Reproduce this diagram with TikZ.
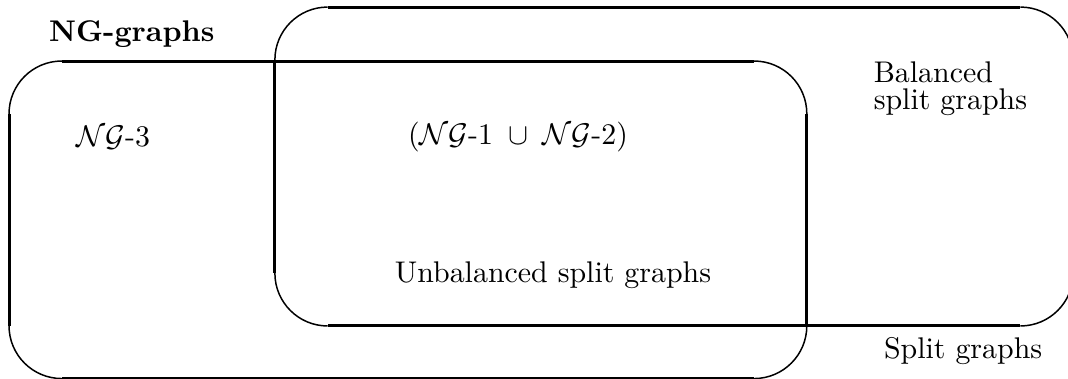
\documentclass[tikz,border=0pt]{standalone}
\usepackage{amsmath}
\usepackage{amssymb}
\usepackage{tikz}
\usetikzlibrary{positioning}
\tikzset{
  edge/.style={line width=1pt},
  corner/.style={line width=0.5pt},
  lbl/.style={inner sep=0pt,anchor=base west},
}

\begin{document}
\begin{tikzpicture}
  \useasboundingbox (0,0) rectangle (12.549,4.453);
  \clip (0,0) rectangle (12.549,4.453);

  % NG-graphs box
  \draw[edge] (0.726,3.736) -- (8.860,3.736);
  \draw[edge] (9.480,3.116) -- (9.480,0.625);
  \draw[edge] (8.860,0.005) -- (0.726,0.005);
  \draw[edge] (0.106,0.625) -- (0.106,3.116);
  \draw[corner] (0.106,3.116) arc[start angle=180,end angle=90,radius=0.62];
  \draw[corner] (8.860,3.736) arc[start angle=90,end angle=0,radius=0.62];
  \draw[corner] (9.480,0.625) arc[start angle=0,end angle=-90,radius=0.62];
  \draw[corner] (0.726,0.005) arc[start angle=270,end angle=180,radius=0.62];

  % Split graphs box
  \draw[edge] (3.850,4.370) -- (11.990,4.370);
  \draw[edge] (12.610,3.750) -- (12.610,1.243);
  \draw[edge] (11.990,0.623) -- (3.850,0.623);
  \draw[edge] (3.230,1.243) -- (3.230,3.750);
  \draw[corner] (3.230,3.750) arc[start angle=180,end angle=90,radius=0.62];
  \draw[corner] (11.990,4.370) arc[start angle=90,end angle=0,radius=0.62];
  \draw[corner] (12.610,1.243) arc[start angle=0,end angle=-90,radius=0.62];
  \draw[corner] (3.850,0.623) arc[start angle=270,end angle=180,radius=0.62];

  % labels
  \node[lbl] (ngtitle) at (0.570,3.960) {\textbf{NG-graphs}};
  \node[lbl] (ng3) at (0.893,2.726) {$\mathcal{NG}$-3};
  \node[inner sep=0pt,anchor=base] (ng12) at (6.087,2.750)
    {$(\mathcal{NG}$-1\ \,$\cup$\ \,$\mathcal{NG}$-2$)$};
  \node[lbl,align=left] (balanced) at (10.26,3.170)
    {Balanced\\[-3pt]split graphs};
  \node[inner sep=0pt,anchor=base] (unbal) at (6.498,1.139)
    {Unbalanced split graphs};
  \node[lbl] (split) at (10.38,0.246) {Split graphs};
\end{tikzpicture}
\end{document}
